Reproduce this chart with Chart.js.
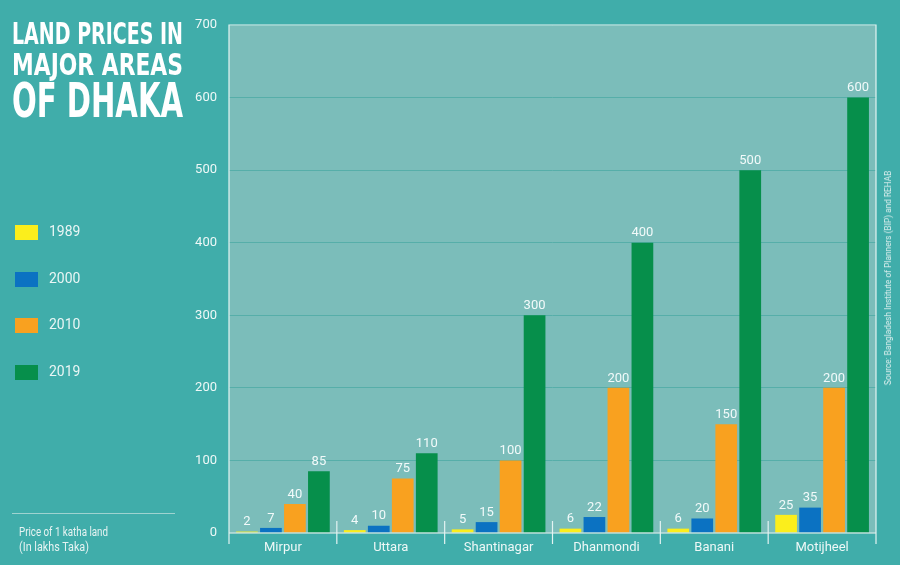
<!DOCTYPE html>
<html><head><meta charset="utf-8">
<script src="https://cdn.jsdelivr.net/npm/chart.js@4"></script>
<style>
html,body{margin:0;padding:0;background:#40adaa;}
#wrap{position:relative;width:900px;height:565px;overflow:hidden;background:#40adaa;font-family:Roboto,sans-serif;color:#eaf6f5;}
canvas{position:absolute;left:0;top:0;}
.t{position:absolute;left:12px;font-family:"Liberation Sans Narrow","DejaVu Sans Condensed",sans-serif;font-weight:bold;color:#fff;white-space:nowrap;transform-origin:left top;line-height:1;}
.lg{position:absolute;left:15px;}
.lg span.sw{position:absolute;left:0;top:0;width:23px;height:15px;}
.lg span.tx{position:absolute;left:34px;top:-3px;font-size:15px;color:#eaf6f5;white-space:nowrap;transform:scaleX(0.93);transform-origin:left top;}
.nt{position:absolute;left:19px;font-family:Roboto,sans-serif;font-size:13px;line-height:1;color:#e6f3f2;white-space:nowrap;transform-origin:left top;}
#rule{position:absolute;left:12px;top:513px;width:163px;height:1px;background:#9fd3d0;}
#src{position:absolute;left:888px;top:278px;font-family:Roboto,sans-serif;font-size:8.3px;color:#dff0ef;white-space:nowrap;transform:translate(-50%,-50%) rotate(-90deg);}
</style></head>
<body><div id="wrap">
<canvas id="c" width="900" height="565"></canvas>
<div class="t" id="t1">LAND PRICES IN</div>
<div class="t" id="t2">MAJOR AREAS</div>
<div class="t" id="t3">OF DHAKA</div>
<div id="legend"></div>
<div id="rule"></div>
<div class="nt" id="n1">Price of 1 katha land</div>
<div class="nt" id="n2">(In lakhs Taka)</div>
<div id="src">Source: Bangladesh Institute of Planners (BIP) and REHAB</div>
</div>
<script>
const categories = ["Mirpur","Uttara","Shantinagar","Dhanmondi","Banani","Motijheel"];
const seriesLabels = ["1989","2000","2010","2019"];
const v1989 = [2,4,5,6,6,25];
const v2000 = [7,10,15,22,20,35];
const v2010 = [40,75,100,200,150,200];
const v2019 = [85,110,300,400,500,600];
const yTicks = [0,100,200,300,400,500,600,700];
const seriesColors = ["#fbee1c","#0b72c2","#f9a11f","#068f4b"];
const seriesValues = [v1989,v2000,v2010,v2019];

function fit(id, size, top, width){
  const el=document.getElementById(id);
  el.style.fontSize=size+'px'; el.style.top=top+'px';
  const w=el.getBoundingClientRect().width;
  el.style.transform='scaleX('+(width/w)+')';
}
fit('t1',30,19,171);
fit('t2',30,50,171);
fit('t3',48,76,171);
fit('n1',13.5,525,89);
fit('n2',13.5,540,70);

const lg=document.getElementById('legend');
const lgTops=[225,272,318,365];
seriesLabels.forEach((s,i)=>{
  const d=document.createElement('div');d.className='lg';d.style.top=lgTops[i]+'px';
  d.innerHTML='<span class="sw" style="background:'+seriesColors[i]+'"></span><span class="tx">'+s+'</span>';
  lg.appendChild(d);
});

const bgPlugin={id:'bg',
  beforeDraw(chart){
    const {ctx,chartArea:a}=chart;
    ctx.save();ctx.fillStyle='#7bbdba';ctx.fillRect(a.left,a.top,a.right-a.left,a.bottom-a.top);ctx.restore();
  },
  afterDraw(chart){
    const {ctx,chartArea:a}=chart;const x=chart.scales.x;
    ctx.save();ctx.strokeStyle='#e3f3f2';ctx.lineWidth=1.2;
    ctx.beginPath();
    ctx.moveTo(a.left,a.bottom+11);ctx.lineTo(a.left,a.top);ctx.lineTo(a.right,a.top);ctx.lineTo(a.right,a.bottom+11);
    ctx.moveTo(a.left,a.bottom);ctx.lineTo(a.right,a.bottom);
    for(let i=1;i<categories.length;i++){
      const px=(x.getPixelForTick(i-1)+x.getPixelForTick(i))/2;
      ctx.moveTo(px,a.bottom-12);ctx.lineTo(px,a.bottom+11);
    }
    ctx.stroke();ctx.restore();
  }
};
const labelPlugin={id:'vals',
  afterDatasetsDraw(chart){
    const ctx=chart.ctx;ctx.save();
    ctx.fillStyle='#f2fafa';ctx.font='13px Roboto';ctx.textAlign='center';ctx.textBaseline='bottom';
    chart.data.datasets.forEach((ds,di)=>{
      chart.getDatasetMeta(di).data.forEach((bar,i)=>{
        ctx.fillText(String(ds.data[i]),bar.x,bar.y-3);
      });
    });
    ctx.restore();
  }
};

new Chart(document.getElementById('c'),{
  type:'bar',
  data:{labels:categories,datasets:seriesLabels.map((s,i)=>({label:s,data:seriesValues[i],backgroundColor:seriesColors[i],borderWidth:0,categoryPercentage:0.89,barPercentage:0.905}))},
  options:{
    responsive:false,animation:false,
    layout:{padding:{left:0,right:24,top:25,bottom:0}},
    plugins:{legend:{display:false},tooltip:{enabled:false}},
    scales:{
      x:{grid:{display:false,drawTicks:false},border:{display:false},
         ticks:{color:'#eef8f7',font:{family:'Roboto',size:13},padding:7},
         afterFit(s){s.height=32;}},
      y:{min:0,max:700,afterBuildTicks(s){s.ticks=yTicks.map(v=>({value:v}));},
         grid:{color:'#56aea9',lineWidth:1,drawTicks:false},border:{display:false},
         ticks:{color:'#eef8f7',font:{family:'Roboto',size:13},padding:12},
         afterFit(s){s.width=229;}}
    }
  },
  plugins:[bgPlugin,labelPlugin]
});
</script>
</body></html>
